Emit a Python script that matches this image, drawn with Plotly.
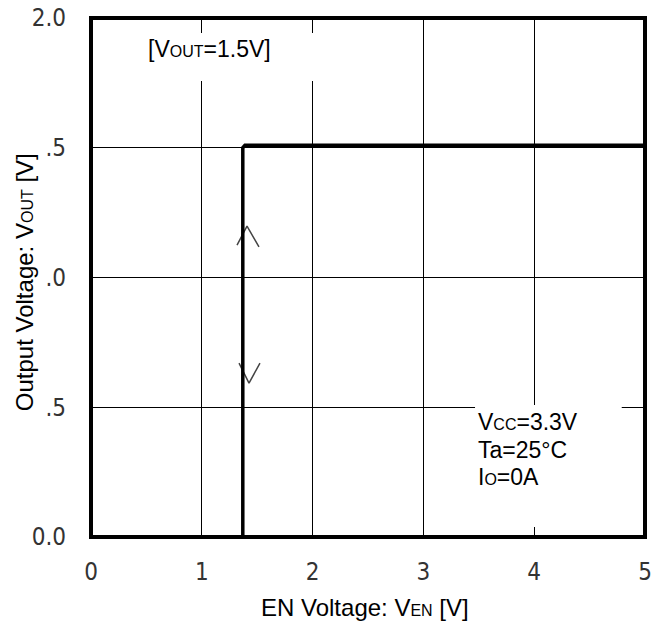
import plotly.graph_objects as go

# Data
en_voltage = [0, 1.37, 1.37, 1.39, 5.0]
vout = [0, 0, 1.50, 1.51, 1.51]

up_arrow_x = [1.318, 1.408, 1.516]
up_arrow_y = [1.125, 1.198, 1.118]
down_arrow_x = [1.336, 1.426, 1.525]
down_arrow_y = [0.670, 0.593, 0.670]

x_ticks = [0, 1, 2, 3, 4, 5]
x_ticktext = ["0", "1", "2", "3", "4", "5"]
y_ticks = [0, 0.5, 1.0, 1.5, 2.0]
y_ticktext = ["0.0", ".5", ".0", ".5", "2.0"]

TXT = "Liberation Sans, Arial, sans-serif"
TICKFONT = "DejaVu Sans Condensed, DejaVu Sans, sans-serif"
SUB = "<span style='font-size:16px'>{}</span>"

fig = go.Figure()
fig.add_trace(go.Scatter(x=up_arrow_x, y=up_arrow_y, mode="lines",
                         line=dict(color="#444", width=1.5), hoverinfo="skip"))
fig.add_trace(go.Scatter(x=down_arrow_x, y=down_arrow_y, mode="lines",
                         line=dict(color="#444", width=1.5), hoverinfo="skip"))
fig.add_trace(go.Scatter(x=en_voltage, y=vout, mode="lines",
                         line=dict(color="black", width=3.5), hoverinfo="skip"))

# the page body has an 8px margin; size the figure so it fits the 666x632 window
fig.update_layout(
    width=650, height=616,
    margin=dict(l=83, r=13, t=10, b=87, autoexpand=False),
    paper_bgcolor="white", plot_bgcolor="white",
    showlegend=False,
    font=dict(family=TXT, size=23, color="black"),
)
fig.update_xaxes(range=[0, 5], tickvals=x_ticks, ticktext=x_ticktext,
                 showgrid=True, gridcolor="black", gridwidth=1,
                 zeroline=False, showline=False, ticks="",
                 ticklabelstandoff=18, ticklabeloverflow="allow",
                 tickfont=dict(family=TICKFONT, size=24, color="#333"))
fig.update_yaxes(range=[0, 2], tickvals=y_ticks, ticktext=y_ticktext,
                 showgrid=True, gridcolor="black", gridwidth=1,
                 zeroline=False, showline=False, ticks="",
                 ticklabelstandoff=24, ticklabeloverflow="allow",
                 tickfont=dict(family=TICKFONT, size=24, color="#333"))

# white boxes masking the grid behind the labels
fig.add_shape(type="rect", xref="x", yref="y", x0=0.45, x1=2.06, y0=1.757, y1=1.942,
              fillcolor="white", line=dict(width=0), layer="above")
fig.add_shape(type="rect", xref="x", yref="y", x0=3.466, x1=4.79, y0=0.0385, y1=0.509,
              fillcolor="white", line=dict(width=0), layer="above")
# frame
fig.add_shape(type="rect", xref="paper", yref="paper", x0=0, x1=1, y0=0, y1=1,
              line=dict(color="black", width=4), layer="above")

fig.add_annotation(x=0.496, y=1.881, xref="x", yref="y", xanchor="left", yanchor="middle",
                   showarrow=False, text="[V" + SUB.format("OUT") + "=1.5V]")
fig.add_annotation(x=3.475, y=(537 - 422) / 259.5, xref="x", yref="y", xanchor="left",
                   yanchor="middle", showarrow=False, text="V" + SUB.format("CC") + "=3.3V")
fig.add_annotation(x=3.475, y=(537 - 450) / 259.5, xref="x", yref="y", xanchor="left",
                   yanchor="middle", showarrow=False, text="Ta=25°C")
fig.add_annotation(x=3.475, y=(537 - 477) / 259.5, xref="x", yref="y", xanchor="left",
                   yanchor="middle", showarrow=False, text="I" + SUB.format("O") + "=0A")

fig.add_annotation(x=0.494, y=-0.135, xref="paper", yref="paper", xanchor="center",
                   yanchor="middle", showarrow=False, font=dict(size=24),
                   text="EN Voltage: V" + SUB.format("EN") + " [V]")
fig.add_annotation(x=-0.12, y=0.49, xref="paper", yref="paper", xanchor="center",
                   yanchor="middle", showarrow=False, textangle=-90, font=dict(size=24),
                   text="Output Voltage: V" + SUB.format("OUT") + " [V]")

fig.write_html("out.html")
